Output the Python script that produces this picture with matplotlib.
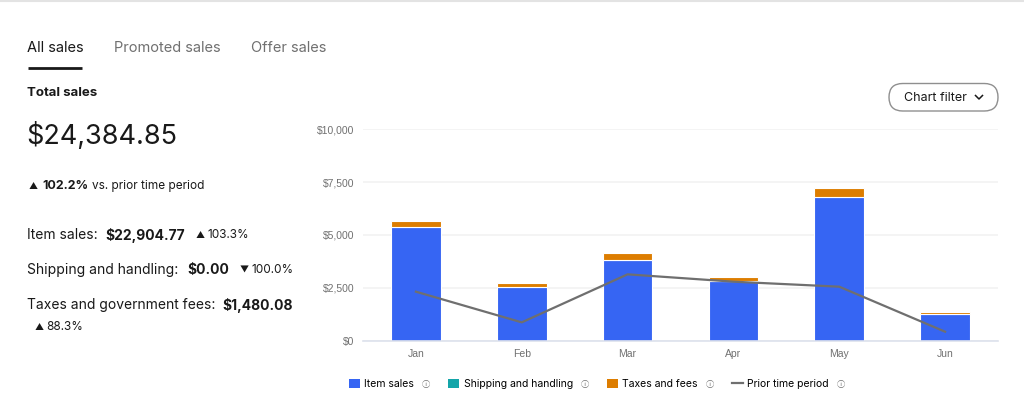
import matplotlib
matplotlib.use('Agg')
import matplotlib.pyplot as plt
from matplotlib.patches import FancyBboxPatch, Patch
from matplotlib.ticker import FuncFormatter

# chart data
months = ['Jan', 'Feb', 'Mar', 'Apr', 'May', 'Jun']
item_sales = [5394, 2555, 3833, 2839, 6814, 1278]
shipping = [0, 0, 0, 0, 0, 0]
taxes = [284, 174, 299, 174, 394, 78]
prior_period = [2319, 868, 3139, 2792, 2555, 426]
y_ticks = [0, 2500, 5000, 7500, 10000]

BLUE = '#3665f3'
TEAL = '#14a5a9'
ORANGE = '#dd7d00'
LINE = '#6f6f6f'
GREY_TXT = '#707070'
DARK = '#191919'

plt.rcParams['font.family'] = ['Inter', 'DejaVu Sans']

W, H = 1024, 419
fig = plt.figure(figsize=(W / 100, H / 100), dpi=100)

# overlay in pixel coordinates for the page text
ov = fig.add_axes([0, 0, 1, 1])
ov.set_xlim(0, W)
ov.set_ylim(H, 0)
ov.axis('off')

# chart axes
ax = fig.add_axes([363 / W, 1 - 340.7 / H, (998 - 363) / W, (340.7 - 129.3) / H])
x = list(range(len(months)))
bw = 0.47
ax.bar(x, item_sales, width=bw, color=BLUE, edgecolor='white', linewidth=0.8, zorder=2)
ax.bar(x, shipping, width=bw, bottom=item_sales, color=TEAL, linewidth=0, zorder=2)
base2 = [a + b for a, b in zip(item_sales, shipping)]
ax.bar(x, taxes, width=bw, bottom=base2, color=ORANGE, edgecolor='white', linewidth=0.8, zorder=2)
ln, = ax.plot(x, prior_period, color=LINE, linewidth=1.6, zorder=3)

ax.set_xlim(-0.5, 5.5)
ax.set_ylim(0, 10000)
ax.set_xticks(x)
ax.set_xticklabels(months)
ax.set_yticks(y_ticks)
ax.yaxis.set_major_formatter(FuncFormatter(lambda v, p: '${:,.0f}'.format(v)))
for s in ['top', 'right', 'left']:
    ax.spines[s].set_visible(False)
ax.spines['bottom'].set_color('#dde1ec')
ax.spines['bottom'].set_linewidth(1.2)
ax.tick_params(length=0, labelsize=7.5, labelcolor=GREY_TXT, pad=6)
for lab in ax.get_xticklabels() + ax.get_yticklabels():
    lab.set_family(['Liberation Sans', 'DejaVu Sans'])
ax.grid(axis='y', color='#f2f2f2', linewidth=1.2, zorder=0)

# legend (info icons are added after layout)
leg_handles = [Patch(facecolor=BLUE), Patch(facecolor=TEAL), Patch(facecolor=ORANGE), ln]
leg_labels = ['Item sales', 'Shipping and handling', 'Taxes and fees', 'Prior time period']
leg = fig.legend(leg_handles, leg_labels, loc='center', bbox_to_anchor=(589 / W, 1 - 384 / H),
                 ncol=4, frameon=False, fontsize=7.5, handlelength=1.0, handleheight=1.0,
                 handletextpad=0.45, columnspacing=3.3)

# top border
ov.plot([0, W], [0.8, 0.8], color='#e3e3e3', linewidth=1.5)

# tabs
ov.text(27, 48, 'All sales', fontsize=10.5, color=DARK, va='center')
ov.text(114, 48, 'Promoted sales', fontsize=10.5, color=GREY_TXT, va='center')
ov.text(251, 48, 'Offer sales', fontsize=10.5, color=GREY_TXT, va='center')
ov.plot([28, 82], [68.5, 68.5], color=DARK, linewidth=2, solid_capstyle='butt')

ov.text(27, 93, 'Total sales', fontsize=9.5, fontweight='bold', color=DARK, va='center')
ov.text(26, 136, '$24,384.85', fontsize=19.5, color=DARK, va='center')


def runs(y, pieces):
    for xpos, txt, weight, size in pieces:
        ov.text(xpos, y, txt, fontsize=size, fontweight=weight, color=DARK, va='center')


runs(186, [(29, '▲', 'normal', 6.5), (42, '102.2%', 'bold', 9), (92, 'vs. prior time period', 'normal', 8.5)])
runs(235, [(27, 'Item sales:', 'normal', 10), (105, '$22,904.77', 'bold', 10),
           (196, '▲', 'normal', 6.5), (207, '103.3%', 'normal', 8.5)])
runs(270, [(27, 'Shipping and handling:', 'normal', 10), (187, '$0.00', 'bold', 10),
           (240, '▼', 'normal', 6.5), (251, '100.0%', 'normal', 8.5)])
runs(305, [(27, 'Taxes and government fees:', 'normal', 10), (222, '$1,480.08', 'bold', 10)])
runs(327, [(35, '▲', 'normal', 6.5), (46, '88.3%', 'normal', 8.5)])

# chart filter button
btn = FancyBboxPatch((889, 83.5), 109, 27.5, boxstyle='round,pad=0,rounding_size=13.7',
                     facecolor='white', edgecolor='#8f8f8f', linewidth=1)
ov.add_patch(btn)
ov.text(904, 97.5, 'Chart filter', fontsize=9, color=DARK, va='center')
ov.plot([975.5, 979, 982.5], [95.5, 99, 95.5], color=DARK, linewidth=1.1)

# info icons after each legend label
fig.canvas.draw()
for t in leg.get_texts():
    bb = t.get_window_extent()
    ov.text(bb.x1 + 8, H - (bb.y0 + bb.y1) / 2, 'ⓘ', fontsize=6, color=GREY_TXT,
            va='center', family=['Noto Sans CJK JP', 'DejaVu Sans'])

fig.savefig('out.png', dpi=100, facecolor='white')
plt.close()
